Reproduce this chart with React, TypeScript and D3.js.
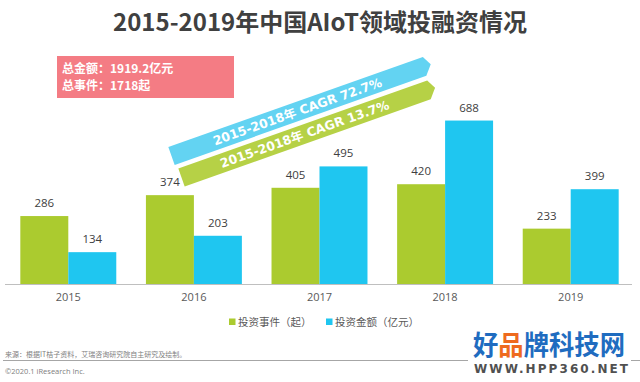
import React from 'react';
import * as d3 from 'd3';

const years = ['2015', '2016', '2017', '2018', '2019'];
const events = [286, 374, 405, 420, 233];
const amounts = [134, 203, 495, 688, 399];
const seriesNames = ['投资事件（起）', '投资金额（亿元）'];
const seriesColors = ['#abcb2f', '#1fc6f0'];
const cagrLabels = ['2015-2018年 CAGR 72.7%', '2015-2018年 CAGR 13.7%'];
const ribbonColors = ['#63d3f2', '#b6d146'];
const summaryLines = ['总金额：1919.2亿元', '总事件：1718起'];
const title = '2015-2019年中国AIoT领域投融资情况';
const sourceText = '来源：根据IT桔子资料，艾瑞咨询研究院自主研究及绘制。';
const copyText = '©2020.1 iResearch Inc.';

const W = 640;
const H = 382;
const CJK = '"Noto Sans CJK SC", "Noto Sans", sans-serif';
const NUM = '"Open Sans", "Noto Sans CJK SC", sans-serif';

function ribbonPath(cx: number, cy: number, angDeg: number, len: number, w: number) {
  const a = (angDeg * Math.PI) / 180;
  const ux = Math.cos(a), uy = Math.sin(a);
  const nx = -uy, ny = ux;
  const h = w / 2;
  const pt = (s: number, t: number) => [cx + ux * s + nx * t, cy + uy * s + ny * t];
  const pts = [pt(0, -h), pt(len - 5, -h), pt(len, 0), pt(len - 8, h), pt(0, h)];
  return d3.line()(pts as [number, number][]) + 'Z';
}

export default function App() {
  const x0 = d3.scaleBand<string>().domain(years).range([5.5, 633.5]).paddingInner(0.236).paddingOuter(0.118);
  const x1 = d3.scaleBand<number>().domain([0, 1]).range([0, x0.bandwidth()]);
  const y = d3.scaleLinear().domain([0, 700]).range([284, 117.7]);
  const data = [events, amounts];

  const ribbons = [
    { cx: 171.5, cy: 156, ang: -19.5, len: 275 },
    { cx: 181.5, cy: 177.5, ang: -19.5, len: 269 },
  ];

  return (
    <svg width={W} height={H} style={{ position: 'absolute', left: 0, top: 0, background: '#fff' }}>
      <rect x={0} y={0} width={W} height={H} fill="#fff" />
      <text x={320} y={31} textAnchor="middle" fontFamily={CJK} fontWeight="bold" fontSize={24} fill="#404040">
        {title}
      </text>

      {/* summary box */}
      <rect x={57} y={56} width={177} height={42} fill="#f47c84" />
      {summaryLines.map((s, i) => (
        <text key={i} x={62} y={72.5 + i * 17} fontFamily={CJK} fontWeight="bold" fontSize={12} fill="#fff">
          {s}
        </text>
      ))}

      {/* bars */}
      {years.map((yr) => (
        <g key={yr} transform={`translate(${x0(yr)},0)`}>
          {data.map((arr, si) => {
            const v = arr[years.indexOf(yr)];
            const bx = x1(si)!;
            return (
              <g key={si}>
                <rect x={bx} y={y(v)} width={x1.bandwidth()} height={y(0) - y(v)} fill={seriesColors[si]} />
                <text x={bx + x1.bandwidth() / 2} y={y(v) - 9} textAnchor="middle" fontFamily={NUM} fontSize={11.5} fill="#404040">
                  {v}
                </text>
              </g>
            );
          })}
        </g>
      ))}

      {/* ribbons */}
      {ribbons.map((r, i) => {
        const a = (r.ang * Math.PI) / 180;
        const s = (r.len - 8) / 2;
        const tx = r.cx + Math.cos(a) * s;
        const ty = r.cy + Math.sin(a) * s;
        return (
          <g key={i}>
            <path d={ribbonPath(r.cx, r.cy, r.ang, r.len, 19)} fill={ribbonColors[i]} />
            <text
              x={0}
              y={0}
              transform={`translate(${tx},${ty}) rotate(${r.ang})`}
              textAnchor="middle"
              dominantBaseline="central"
              fontFamily='"DejaVu Sans", "Noto Sans CJK SC", sans-serif'
              fontWeight="bold"
              fontSize={12.5}
              fill="#fff"
            >
              {cagrLabels[i]}
            </text>
          </g>
        );
      })}

      {/* axis */}
      <line x1={5} x2={632} y1={284.5} y2={284.5} stroke="#bfbfbf" strokeWidth={1} />
      {years.map((yr) => (
        <text key={yr} x={x0(yr)! + x0.bandwidth() / 2} y={301} textAnchor="middle" fontFamily={NUM} fontSize={11} fill="#595959">
          {yr}
        </text>
      ))}

      {/* legend */}
      {seriesNames.map((n, i) => {
        const lx = [229, 326][i];
        return (
          <g key={n}>
            <rect x={lx} y={318.5} width={6.5} height={6.5} fill={seriesColors[i]} />
            <text x={lx + 9} y={325.5} fontFamily={CJK} fontSize={10.5} fill="#595959">
              {n}
            </text>
          </g>
        );
      })}

      {/* footer */}
      <text x={5} y={357} fontFamily={CJK} fontSize={7} fill="#808080">
        {sourceText}
      </text>
      <line x1={3} x2={468} y1={360.5} y2={360.5} stroke="#a6a6a6" strokeWidth={1} />
      <line x1={631} x2={640} y1={360.5} y2={360.5} stroke="#a6a6a6" strokeWidth={1} />
      <text x={5} y={374} fontFamily={NUM} fontSize={7.5} fill="#808080">
        {copyText}
      </text>

      {/* watermark */}
      <text x={473} y={355} fontFamily={CJK} fontWeight="bold" fontSize={27} textLength={152} lengthAdjust="spacingAndGlyphs" fill="#1f6cc0">
        <tspan>好</tspan>
        <tspan fill="#ee6a1e">品</tspan>
        <tspan>牌科技网</tspan>
      </text>
      <text x={474} y={373} fontFamily='"DejaVu Sans", sans-serif' fontWeight="bold" fontSize={12} textLength={154} lengthAdjust="spacing" fill="#505050">
        WWW.HPP360.NET
      </text>
    </svg>
  );
}
